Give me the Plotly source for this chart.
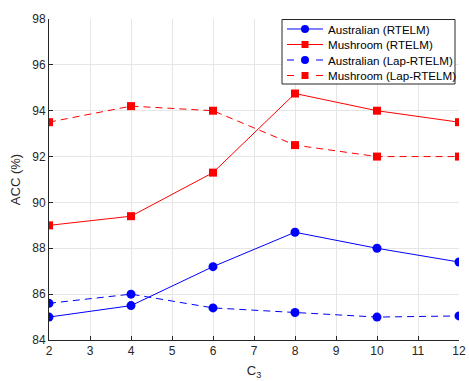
import plotly.graph_objects as go

c3 = [2, 4, 6, 8, 10, 12]
aus_rtelm = [85.0, 85.5, 87.2, 88.7, 88.0, 87.4]
mush_rtelm = [89.0, 89.4, 91.3, 94.75, 94.0, 93.5]
aus_lap = [85.6, 86.0, 85.4, 85.2, 85.0, 85.05]
mush_lap = [93.5, 94.2, 94.0, 92.5, 92.0, 92.0]

series_names = ["Australian (RTELM)", "Mushroom (RTELM)", "Australian (Lap-RTELM)", "Mushroom (Lap-RTELM)"]
series_values = [aus_rtelm, mush_rtelm, aus_lap, mush_lap]
series_colors = ["#0000FF", "#FF0000", "#0000FF", "#FF0000"]
series_symbols = ["circle", "square", "circle", "square"]
series_dash = ["solid", "solid", "dash", "dash"]

x_ticks = list(range(2, 13))
y_ticks = [84, 86, 88, 90, 92, 94, 96, 98]

W, H = 469, 381
ML, MR, MT, MB = 49, 10, 19, 41
PW, PH = W - ML - MR, H - MT - MB

def px(x):
    return (x - ML) / PW

def py(y):
    return 1 - (y - MT) / PH

fig = go.Figure()
for name, vals, col, sym, dash in zip(series_names, series_values, series_colors, series_symbols, series_dash):
    fig.add_trace(go.Scatter(
        x=c3, y=vals, mode="lines+markers", name=name, showlegend=False,
        line=dict(color=col, width=1, dash="7px,5px" if dash == "dash" else "solid"),
        marker=dict(symbol=sym, size=9 if sym == "circle" else 8, color=col, line=dict(width=0)),
    ))

# Legend (MATLAB style box, compact rows)
shapes = [dict(type="rect", xref="paper", yref="paper", x0=px(282), x1=px(455), y0=py(84), y1=py(19.5),
               line=dict(color="#262626", width=1), fillcolor="white", layer="above")]
annotations = []
row_y = [29, 44.5, 60, 75.5]
for i, (name, col, sym, dash) in enumerate(zip(series_names, series_colors, series_symbols, series_dash)):
    yc = row_y[i]
    if dash == "solid":
        shapes.append(dict(type="line", xref="paper", yref="paper", x0=px(287), x1=px(323), y0=py(yc), y1=py(yc),
                           line=dict(color=col, width=1), layer="above"))
    else:
        for a, b in [(287, 294), (316, 323)]:
            shapes.append(dict(type="line", xref="paper", yref="paper", x0=px(a), x1=px(b), y0=py(yc), y1=py(yc),
                               line=dict(color=col, width=1), layer="above"))
    r = 4 if sym == "circle" else 3.5
    shapes.append(dict(type="circle" if sym == "circle" else "rect", xref="paper", yref="paper",
                       x0=px(305 - r), x1=px(305 + r), y0=py(yc + r), y1=py(yc - r),
                       line=dict(color=col, width=0), fillcolor=col, layer="above"))
    annotations.append(dict(text=name, xref="paper", yref="paper", x=px(326), y=py(yc), xanchor="left",
                            yanchor="middle", showarrow=False, font=dict(size=11.6, color="#000000")))

axis_common = dict(showgrid=True, gridcolor="#E6E6E6", gridwidth=1, zeroline=False,
                   showline=True, linecolor="#262626", linewidth=1, ticks="inside",
                   ticklen=4, tickcolor="#262626", tickfont=dict(size=12, color="#262626"),
                   automargin=False)

fig.update_layout(
    width=W, height=H,
    margin=dict(l=ML, r=MR, t=MT, b=MB),
    paper_bgcolor="white", plot_bgcolor="white",
    font=dict(family="Liberation Sans, Arial, sans-serif", color="#262626"),
    xaxis=dict(range=[2, 12], tickvals=x_ticks, title=dict(text="C<sub>3</sub>", font=dict(size=13), standoff=8), **axis_common),
    yaxis=dict(range=[84, 98], tickvals=y_ticks, title=dict(text="ACC (%)", font=dict(size=13), standoff=8), **axis_common),
    shapes=shapes, annotations=annotations,
    showlegend=False,
)

fig.write_html("out.html")
